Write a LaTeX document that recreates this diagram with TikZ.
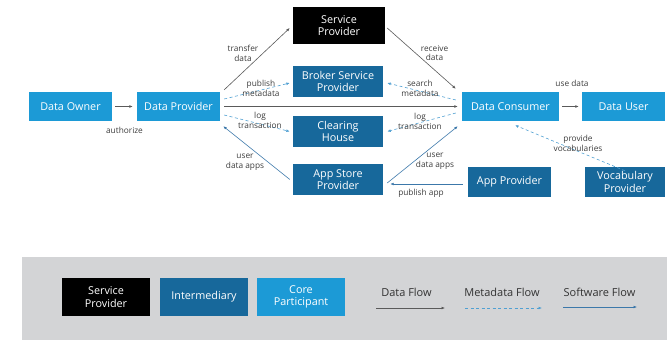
\documentclass[tikz,border=0pt]{standalone}
\usepackage{fontspec}
\setmainfont{Open Sans}
\usetikzlibrary{arrows.meta}
\definecolor{core}{RGB}{28,154,214}
\definecolor{inter}{RGB}{23,104,155}
\definecolor{band}{RGB}{211,212,214}
\definecolor{dataln}{RGB}{90,90,90}
\definecolor{metaln}{RGB}{80,160,210}
\definecolor{softln}{RGB}{60,120,170}
\definecolor{lbl}{RGB}{60,60,60}
\begin{document}
\begin{tikzpicture}[x=1pt,y=-1pt,
  box/.style={text=white, font=\fontsize{10.8}{12.5}\selectfont, align=center, inner sep=0pt},
  corebox/.style={box, fill=core},
  interbox/.style={box, fill=inter},
  spbox/.style={box, fill=black},
  lab/.style={text=lbl, font=\fontsize{8.3}{9.8}\selectfont, align=center, inner sep=0pt},
  legtext/.style={text=black!80, font=\fontsize{11}{13}\selectfont, inner sep=0pt},
  tip/.style={-{Latex[length=3.5pt,width=2.8pt]}},
  dflow/.style={tip, draw=dataln, line width=0.6pt},
  mflow/.style={tip, draw=metaln, dash pattern=on 3pt off 2.5pt, line width=0.6pt},
  sflow/.style={tip, draw=softln, line width=0.6pt},
]
\useasboundingbox (0,0) rectangle (667,340);

% participants
\node[corebox, minimum width=83pt, minimum height=29pt] (do) at (70.5,106.5) {Data Owner};
\node[corebox, minimum width=83pt, minimum height=29pt] (dp) at (178.5,106.5) {Data Provider};
\node[spbox, minimum width=92pt, minimum height=37pt] (sp) at (339,25.5) {Service\\Provider};
\node[interbox, minimum width=90pt, minimum height=31pt] (bsp) at (338,81.5) {Broker Service\\Provider};
\node[interbox, minimum width=90pt, minimum height=31pt] (ch) at (338,131.5) {Clearing\\House};
\node[interbox, minimum width=90pt, minimum height=31pt] (asp) at (338,179.5) {App Store\\Provider};
\node[corebox, minimum width=97pt, minimum height=29pt] (dc) at (510.5,106.5) {Data Consumer};
\node[corebox, minimum width=83pt, minimum height=29pt] (du) at (623.5,106.5) {Data User};
\node[interbox, minimum width=83pt, minimum height=30pt] (ap) at (509.5,182) {App Provider};
\node[interbox, minimum width=80pt, minimum height=30pt] (vp) at (625,182) {Vocabulary\\Provider};

% flows
\draw[dflow] ([xshift=3pt]do.east) -- ([xshift=-4pt]dp.west);
\draw[dflow] ([shift={(4,-2)}]dp.north east) -- ([shift={(-3,2.5)}]sp.west);
\draw[mflow] ([shift={(4,-7.5)}]dp.east) -- ([shift={(-3,1.5)}]bsp.west);
\draw[dflow] ([xshift=4pt]dp.east) -- ([xshift=-4pt]dc.west);
\draw[mflow] ([shift={(4,8.5)}]dp.east) -- ([xshift=-3pt]ch.west);
\draw[sflow] ([xshift=-3pt]asp.west) -- ([shift={(3,5)}]dp.south east);
\draw[dflow] ([shift={(2,2.5)}]sp.east) -- ([shift={(-6,-3)}]dc.north west);
\draw[mflow] ([shift={(-6,-6.5)}]dc.west) -- ([shift={(4,1.5)}]bsp.east);
\draw[mflow] ([shift={(-6,6.5)}]dc.west) -- ([xshift=4pt]ch.east);
\draw[sflow] ([shift={(4,3.5)}]asp.east) -- ([shift={(-4,5)}]dc.south west);
\draw[sflow] ([shift={(-5,2)}]ap.west) -- ([shift={(7,4.5)}]asp.east);
\draw[dflow] ([xshift=3pt]dc.east) -- ([xshift=-3pt]du.west);
\draw[mflow] ([yshift=-4pt]vp.north) -- ([shift={(4.5,4)}]dc.south);

% flow labels
\node[lab] (l1) at (124.5,130) {authorize};
\node[lab] (l2) at (243,53.5) {transfer\\data};
\node[lab] (l3) at (261,88) {publish\\metadata};
\node[lab] (l4) at (260,120.5) {log\\transaction};
\node[lab] (l5) at (245,162) {user\\data apps};
\node[lab] (l6) at (434.5,53) {receive\\data};
\node[lab] (l7) at (420,88.5) {search\\metadata};
\node[lab] (l8) at (420,121) {log\\transaction};
\node[lab] (l9) at (435,161.5) {user\\data apps};
\node[lab] (l10) at (421,193) {publish app};
\node[lab] (l11) at (572,83) {use data};
\node[lab] (l12) at (578,143) {provide\\vocabularies};

% legend
\fill[band] (22,257) rectangle (667,340);
\node[spbox, minimum width=88pt, minimum height=38pt] (kg1) at (106,297) {Service\\Provider};
\node[interbox, minimum width=88pt, minimum height=38pt] (kg2) at (204,297) {Intermediary};
\node[corebox, minimum width=88pt, minimum height=38pt] (kg3) at (301,297) {Core\\Participant};
\node[legtext] (kt1) at (406.5,292) {Data Flow};
\node[legtext] (kt2) at (502,292) {Metadata Flow};
\node[legtext] (kt3) at (599.5,292) {Software Flow};
\coordinate (ka1) at (376,308);
\coordinate (kb1) at (445,308);
\coordinate (ka2) at (465,308);
\coordinate (kb2) at (542,308);
\coordinate (ka3) at (563,307);
\coordinate (kb3) at (637,307);
\draw[dflow] (ka1) -- (kb1);
\draw[mflow] (ka2) -- (kb2);
\draw[sflow] (ka3) -- (kb3);
\end{tikzpicture}
\end{document}
